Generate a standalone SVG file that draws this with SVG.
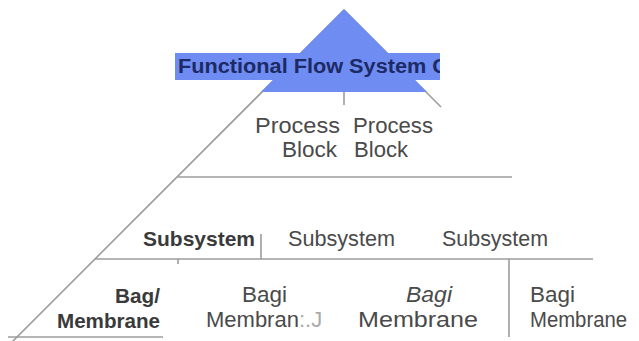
<svg xmlns="http://www.w3.org/2000/svg" width="639" height="341" viewBox="0 0 639 341">
<style>
.ln{stroke:#9c9c9c;stroke-width:1.6;fill:none}
.t{font-family:"Liberation Sans",Arial,sans-serif;fill:#4a4a4a;font-size:22px}
.b{font-family:"Liberation Sans",Arial,sans-serif;fill:#3a3a3a;font-size:20.5px;font-weight:bold}
.ttl{font-family:"Liberation Sans",Arial,sans-serif;fill:#1c2a66;font-size:20px;font-weight:bold}
</style>
<defs>
<clipPath id="band"><rect x="175" y="53" width="265" height="27"/></clipPath>
</defs>
<rect width="639" height="341" fill="#ffffff"/>
<g id="connectors">
<line class="ln" x1="344" y1="10" x2="10" y2="344"/>
<line class="ln" x1="344" y1="10" x2="441" y2="107"/>
<line class="ln" x1="344" y1="92" x2="344" y2="105"/>
<line class="ln" x1="178" y1="177" x2="512" y2="177"/>
<line class="ln" x1="95" y1="259" x2="593" y2="259"/>
<line class="ln" x1="178" y1="259" x2="178" y2="264"/>
<line class="ln" x1="261" y1="234" x2="261" y2="259"/>
<line class="ln" x1="509" y1="259" x2="509" y2="337"/>
<line class="ln" x1="8" y1="337" x2="163" y2="337"/>
</g>
<g id="top">
<rect x="175" y="53" width="265" height="27" fill="#6f8cf2"/>
<polygon points="344,9 261,92 427,92" fill="#6f8cf2"/>
<text class="ttl" x="178" y="73" clip-path="url(#band)" textLength="270" lengthAdjust="spacingAndGlyphs">Functional Flow System C</text>
</g>
<g id="process1">
<text class="t" x="255" y="133" textLength="85" lengthAdjust="spacingAndGlyphs">Process</text>
<text class="t" x="282" y="157" textLength="55" lengthAdjust="spacingAndGlyphs">Block</text>
</g>
<g id="process2">
<text class="t" x="353" y="133" textLength="80" lengthAdjust="spacingAndGlyphs">Process</text>
<text class="t" x="354" y="157" textLength="54" lengthAdjust="spacingAndGlyphs">Block</text>
</g>
<g id="subsystem1">
<text class="b" x="143" y="246" textLength="112" lengthAdjust="spacingAndGlyphs">Subsystem</text>
</g>
<g id="subsystem2">
<text class="t" x="288" y="246" textLength="107" lengthAdjust="spacingAndGlyphs">Subsystem</text>
</g>
<g id="subsystem3">
<text class="t" x="442" y="246" textLength="106" lengthAdjust="spacingAndGlyphs">Subsystem</text>
</g>
<g id="bag0">
<text class="b" x="115" y="303" textLength="45" lengthAdjust="spacingAndGlyphs">Bag/</text>
<text class="b" x="57" y="328" textLength="103" lengthAdjust="spacingAndGlyphs">Membrane</text>
</g>
<g id="bag1">
<text class="t" x="242" y="302" textLength="45" lengthAdjust="spacingAndGlyphs">Bagi</text>
<text class="t" x="206" y="327" font-size="24">Membran<tspan fill="#aaaaaa">:.J</tspan></text>
</g>
<g id="bag2">
<text class="t" x="406" y="302" font-style="italic" textLength="46" lengthAdjust="spacingAndGlyphs">Bagi</text>
<text class="t" x="358" y="327" font-size="25" textLength="120" lengthAdjust="spacingAndGlyphs">Membrane</text>
</g>
<g id="bag3">
<text class="t" x="530" y="302" textLength="45" lengthAdjust="spacingAndGlyphs">Bagi</text>
<text class="t" x="530" y="327" font-size="21" textLength="97" lengthAdjust="spacingAndGlyphs">Membrane</text>
</g>
</svg>
